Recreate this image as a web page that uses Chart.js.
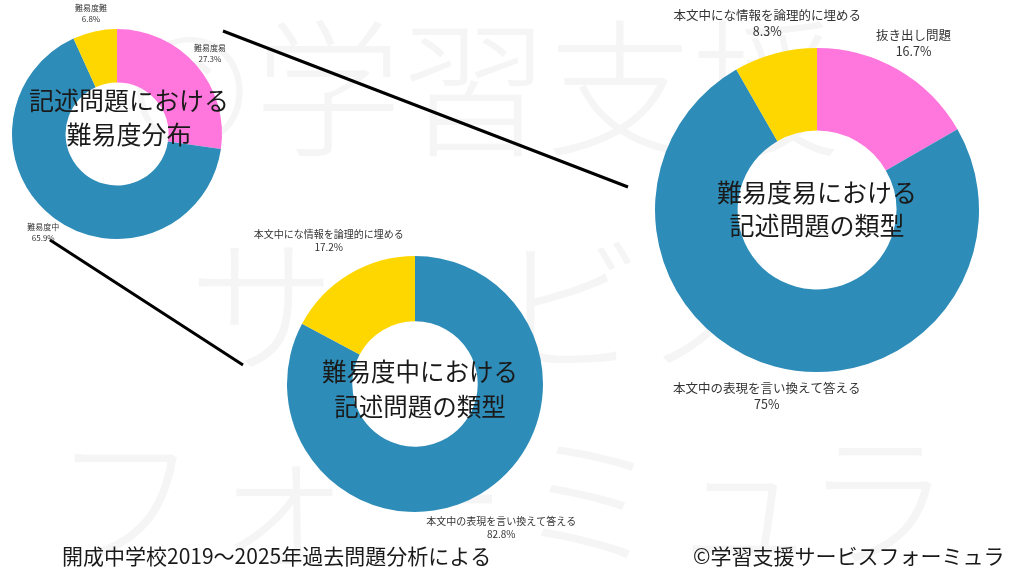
<!DOCTYPE html>
<html lang="ja">
<head>
<meta charset="utf-8">
<script src="https://cdn.jsdelivr.net/npm/chart.js@4.4.1/dist/chart.umd.min.js"></script>
<style>
    html, body { margin: 0; padding: 0; background: #fff; }
    #stage { position: relative; width: 1024px; height: 576px; overflow: hidden; }
    #backdrop { position: absolute; left: 0; top: 0; }
    .box { position: absolute; }
</style>
</head>
<body>
<div id="stage">
    <canvas id="backdrop" width="1024" height="576"></canvas>
    <div class="box" style="left:0;top:0;width:240px;height:260px"><canvas id="overall"></canvas></div>
    <div class="box" style="left:600px;top:0;width:424px;height:420px"><canvas id="easy"></canvas></div>
    <div class="box" style="left:220px;top:215px;width:400px;height:340px"><canvas id="middle"></canvas></div>
</div>
<script>
// 記述問題の難易度分布
var overallLabels = ['難易度易', '難易度中', '難易度難'];
var overallValues = [27.3, 65.9, 6.8];

// 難易度易の内訳
var easyLabels = ['抜き出し問題', '本文中の表現を言い換えて答える', '本文中にな情報を論理的に埋める'];
var easyValues = [16.7, 75, 8.3];

// 難易度中の内訳
var middleLabels = ['本文中の表現を言い換えて答える', '本文中にな情報を論理的に埋める'];
var middleValues = [82.8, 17.2];

var footLeft = '開成中学校2019〜2025年過去問題分析による';
var footRight = '©学習支援サービスフォーミュラ';

(function () {
    var FONT = '"Noto Sans CJK JP", "Noto Sans", sans-serif';
    var PINK = '#FF77DD', BLUE = '#2E8CB8', YELLOW = '#FFD700';

    var sliceColor = {
        '難易度易': PINK, '難易度中': BLUE, '難易度難': YELLOW,
        '抜き出し問題': PINK,
        '本文中の表現を言い換えて答える': BLUE,
        '本文中にな情報を論理的に埋める': YELLOW
    };

    // label + percentage outside each slice, along its middle angle
    var sliceLabels = {
        id: 'sliceLabels',
        afterDatasetsDraw: function (chart, args, opts) {
            var ctx = chart.ctx;
            var meta = chart.getDatasetMeta(0);
            var values = chart.data.datasets[0].data;
            ctx.save();
            ctx.font = opts.size + 'px ' + FONT;
            ctx.fillStyle = '#333';
            ctx.textAlign = 'center';
            ctx.textBaseline = 'middle';
            meta.data.forEach(function (arc, i) {
                var p = arc.getProps(['x', 'y', 'startAngle', 'endAngle', 'outerRadius'], true);
                var mid = (p.startAngle + p.endAngle) / 2;
                var d = p.outerRadius * opts.dist;
                var cx = p.x + Math.cos(mid) * d;
                var cy = p.y + Math.sin(mid) * d;
                ctx.fillText(chart.data.labels[i], cx, cy - opts.gap / 2);
                ctx.fillText(values[i] + '%', cx, cy + opts.gap / 2);
            });
            ctx.restore();
        }
    };

    var centerTitle = {
        id: 'centerTitle',
        afterDatasetsDraw: function (chart, args, opts) {
            var ctx = chart.ctx;
            var arc = chart.getDatasetMeta(0).data[0];
            ctx.save();
            ctx.font = opts.size + 'px ' + FONT;
            ctx.fillStyle = '#1a1a1a';
            ctx.textAlign = 'center';
            ctx.textBaseline = 'middle';
            opts.lines.forEach(function (line, i) {
                ctx.fillText(line, arc.x + opts.dx, arc.y + opts.dy + i * opts.gap);
            });
            ctx.restore();
        }
    };

    function makeDonut(id, labels, values, padding, labelOpts, titleOpts) {
        return new Chart(document.getElementById(id), {
            type: 'doughnut',
            data: {
                labels: labels,
                datasets: [{
                    data: values,
                    backgroundColor: labels.map(function (l) { return sliceColor[l]; }),
                    borderWidth: 0
                }]
            },
            options: {
                responsive: true,
                maintainAspectRatio: false,
                animation: false,
                cutout: '49%',
                layout: { padding: padding },
                plugins: {
                    legend: { display: false },
                    tooltip: { enabled: false },
                    sliceLabels: labelOpts,
                    centerTitle: titleOpts
                }
            },
            plugins: [sliceLabels, centerTitle]
        });
    }

    // watermark glyphs, one row at a time: [text, centre x list, centre y]
    function stamp(ctx, text, xs, y) {
        Array.from(text).forEach(function (ch, i) {
            ctx.fillText(ch, xs[i], y);
        });
    }

    function drawBackdrop() {
        var c = document.getElementById('backdrop');
        var ctx = c.getContext('2d');
        ctx.fillStyle = '#fff';
        ctx.fillRect(0, 0, c.width, c.height);

        // faint watermark
        ctx.fillStyle = '#f5f5f5';
        ctx.font = '300 148px ' + FONT;
        ctx.textBaseline = 'middle';
        ctx.textAlign = 'center';
        stamp(ctx, '©学習支援', [190, 328, 475, 620, 766], 88);
        stamp(ctx, 'サービス', [262, 416, 570, 720], 305);
        stamp(ctx, 'フォーミュラ', [126, 280, 434, 590, 744, 878], 500);

        // connector lines
        ctx.strokeStyle = '#000';
        ctx.lineWidth = 3;
        ctx.beginPath();
        ctx.moveTo(223, 31);
        ctx.lineTo(628, 187);
        ctx.moveTo(50, 240);
        ctx.lineTo(243, 365);
        ctx.stroke();

        // footer
        ctx.fillStyle = '#1a1a1a';
        ctx.font = '21px ' + FONT;
        ctx.textAlign = 'left';
        ctx.textBaseline = 'middle';
        ctx.fillText(footLeft, 62, 556, 436);
        ctx.fillText(footRight, 693, 556, 318);
    }

    drawBackdrop();

    makeDonut('overall', overallLabels, overallValues,
        { left: 12, right: 18, top: 29, bottom: 21 },
        { dist: 1.17, size: 8, gap: 11 },
        { lines: ['記述問題における', '難易度分布'], dx: 12, dy: -34, gap: 34, size: 25 });

    makeDonut('easy', easyLabels, easyValues,
        { left: 55, right: 45, top: 48, bottom: 48 },
        { dist: 1.19, size: 12.5, gap: 16 },
        { lines: ['難易度易における', '記述問題の類型'], dx: 0, dy: -18, gap: 33, size: 25 });

    makeDonut('middle', middleLabels, middleValues,
        { left: 67, right: 77, top: 41, bottom: 43 },
        { dist: 1.31, size: 10, gap: 13 },
        { lines: ['難易度中における', '記述問題の類型'], dx: 5, dy: -12, gap: 35, size: 24.5 });
})();
</script>
</body>
</html>
